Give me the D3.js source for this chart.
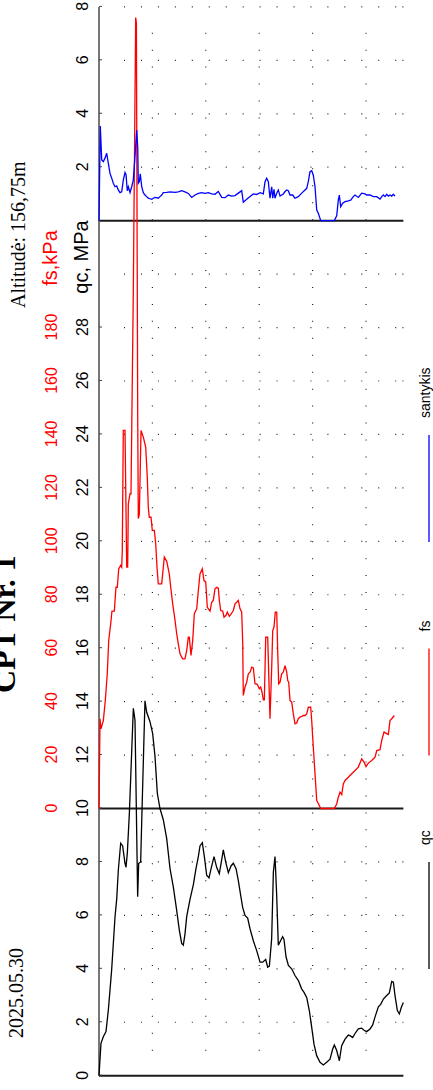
<!DOCTYPE html>
<html lang="lt">
<head>
<meta charset="UTF-8"/>
<title>CPT Nr. 1</title>
<script src="https://d3js.org/d3.v7.min.js"></script>
<style>
    html, body { margin: 0; padding: 0; overflow: hidden; background: #fff; }
</style>
</head>
<body>
<script>

    var w = 433;
    var h = 1090;

    // [depth m, qc MPa]
    var qcPoints = [
        [0,0],[0.037,1.21],[0.081,1.46],[0.131,1.65],[0.175,2.46],[0.237,3.96],[0.300,5.95],[0.331,6.6],
        [0.362,7.7],[0.406,8.7],[0.443,8.6],[0.487,7.95],[0.506,7.8],[0.531,8.35],[0.568,9.8],[0.643,13.75],
        [0.674,13.3],[0.724,6.7],[0.743,7.95],[0.780,8.0],[0.805,9.9],[0.861,14.03],[0.893,13.6],[0.955,13.25],
        [1.005,12.8],[1.049,11.94],[1.092,10.57],[1.142,10.0],[1.205,9.57],[1.267,8.88],[1.330,7.75],[1.392,7.06],
        [1.454,6.2],[1.504,5.45],[1.548,4.95],[1.579,4.89],[1.610,5.3],[1.642,5.95],[1.704,6.6],[1.767,7.15],
        [1.816,7.75],[1.860,8.2],[1.891,8.6],[1.935,8.72],[1.973,8.2],[2.016,7.5],[2.060,7.4],[2.104,7.8],
        [2.154,8.2],[2.203,7.8],[2.253,7.56],[2.291,8.0],[2.328,8.45],[2.372,8.0],[2.422,7.6],[2.472,7.85],
        [2.516,7.95],[2.566,7.75],[2.609,7.3],[2.653,6.75],[2.690,6.3],[2.734,6.0],[2.784,5.9],[2.828,5.5],
        [2.890,5.05],[2.953,4.68],[3.015,4.25],[3.065,4.25],[3.121,4.35],[3.159,4.06],[3.190,4.1],[3.233,5.12],
        [3.265,7.62],[3.296,8.2],[3.327,6.75],[3.358,4.88],[3.402,5.06],[3.439,5.2],[3.464,5.1],[3.502,4.45],
        [3.546,4.13],[3.608,4.0],[3.670,3.75],[3.733,3.56],[3.795,3.25],[3.839,3.12],[3.889,2.93],[3.939,2.43],
        [3.983,1.81],[4.026,1.18],[4.076,0.75],[4.139,0.5],[4.201,0.4],[4.263,0.5],[4.326,0.62],[4.376,1.0],
        [4.407,1.15],[4.451,0.94],[4.501,0.56],[4.544,1.12],[4.607,1.37],[4.669,1.52],[4.700,1.5],[4.750,1.43],
        [4.794,1.58],[4.856,1.75],[4.919,1.78],[4.963,1.7],[5.012,1.65],[5.075,1.75],[5.125,1.9],[5.169,2.2],
        [5.231,2.58],[5.275,2.67],[5.325,2.87],[5.387,3.0],[5.437,3.1],[5.481,3.53],[5.512,3.5],[5.543,3.0],
        [5.587,2.44],[5.624,2.31],[5.662,2.56],[5.699,2.74]
    ];

    // [depth m, fs kPa]
    var fsPoints = [
        [0,0],[0.019,33.6],[0.037,29.8],[0.081,32.9],[0.118,40.4],[0.155,50.4],[0.182,62.9],[0.219,69.1],
        [0.243,73.9],[0.287,73.9],[0.318,82.8],[0.343,82.8],[0.369,89.7],[0.406,91.0],[0.425,90.3],[0.436,96.5],
        [0.455,141.5],[0.487,141.5],[0.519,90.3],[0.537,90.3],[0.549,114.0],[0.581,117.8],[0.599,117.8],[0.642,192.6],
        [0.687,296],[0.700,294],[0.725,146.3],[0.736,108.5],[0.755,110],[0.787,141.5],[0.830,139.0],[0.875,135.2],
        [0.904,124.0],[0.923,112.8],[0.942,109.0],[0.974,109.0],[0.998,104.1],[1.036,104.1],[1.062,99.1],[1.086,90.3],
        [1.110,84.1],[1.174,84.1],[1.223,94.1],[1.268,92.5],[1.316,87.8],[1.343,82.8],[1.380,76.6],[1.423,70.5],
        [1.455,65.4],[1.485,61.6],[1.517,57.9],[1.567,56.0],[1.610,56.0],[1.642,59.1],[1.672,64.1],[1.691,64.1],
        [1.723,57.3],[1.755,62.9],[1.785,72.9],[1.830,74.7],[1.860,81.6],[1.891,87.8],[1.934,89.7],[1.966,85.3],
        [1.998,84.8],[2.028,75.3],[2.079,73.9],[2.110,77.2],[2.140,77.9],[2.172,82.2],[2.204,82.8],[2.234,82.5],
        [2.253,77.9],[2.279,74.1],[2.316,73.9],[2.341,71.6],[2.378,72.3],[2.403,73.5],[2.440,71.9],[2.472,72.7],
        [2.515,74.1],[2.547,76.6],[2.579,77.2],[2.609,77.9],[2.640,74.8],[2.672,73.5],[2.691,62],[2.702,42.3],
        [2.734,45.4],[2.766,47.3],[2.796,50.4],[2.828,51],[2.860,52.9],[2.890,52.6],[2.921,46.7],[2.964,46.5],
        [3.002,44.8],[3.028,45.4],[3.052,43.6],[3.077,40.7],[3.096,40.7],[3.122,64.1],[3.159,64.1],[3.178,50.4],
        [3.202,33.6],[3.234,52.9],[3.253,66.6],[3.277,67.9],[3.301,73.5],[3.328,73.5],[3.346,59.1],[3.365,46.7],
        [3.390,47.3],[3.421,50.4],[3.451,51],[3.483,53.5],[3.515,51],[3.534,47.9],[3.552,47.3],[3.577,40.4],
        [3.609,39.8],[3.639,35.4],[3.670,31.7],[3.702,32],[3.732,33.6],[3.764,34.2],[3.796,34.5],[3.826,34.8],
        [3.858,34.8],[3.890,35.4],[3.919,37.9],[3.964,37.9],[3.983,32.9],[4.013,22.9],[4.045,13.0],[4.077,3.0],
        [4.107,1.9],[4.152,0],[4.406,0],[4.451,1.7],[4.481,4.2],[4.513,6.1],[4.545,5.2],[4.575,9.2],
        [4.607,10.5],[4.669,11.7],[4.732,13.0],[4.794,14.2],[4.856,15.5],[4.919,18.6],[4.963,17.4],[5.000,15.7],
        [5.043,17],[5.107,18.0],[5.169,19.2],[5.201,21.7],[5.262,22],[5.294,25.5],[5.337,28.6],[5.388,28],
        [5.418,27.7],[5.449,32.9],[5.481,33.6],[5.530,34.8]
    ];

    // [depth m, santykis]
    var ratioPoints = [
        [0,0],[0.024,3.54],[0.051,2.27],[0.081,2.21],[0.112,2.34],[0.144,2.52],[0.174,2.15],[0.206,1.77],
        [0.238,1.59],[0.268,1.40],[0.300,1.27],[0.331,1.30],[0.361,1.15],[0.393,1.05],[0.425,1.08],[0.455,1.52],
        [0.487,1.80],[0.506,1.72],[0.530,1.12],[0.549,1.27],[0.581,1.05],[0.612,1.27],[0.642,1.52],[0.674,2.40],
        [0.706,3.39],[0.725,2.75],[0.736,1.40],[0.755,1.46],[0.773,1.75],[0.800,1.27],[0.830,1.05],[0.861,0.96],
        [0.893,0.90],[0.923,0.84],[0.955,0.82],[0.987,0.80],[1.017,0.84],[1.049,0.87],[1.080,0.86],[1.110,0.84],
        [1.142,0.90],[1.174,0.96],[1.204,1.05],[1.268,1.06],[1.330,1.08],[1.423,1.06],[1.485,1.08],[1.549,1.12],
        [1.610,1.08],[1.672,1.02],[1.736,0.87],[1.798,0.96],[1.860,1.02],[1.923,1.05],[1.985,1.02],[2.047,1.05],
        [2.110,1.00],[2.172,0.99],[2.234,1.09],[2.298,0.87],[2.360,0.86],[2.421,0.96],[2.485,0.92],[2.547,0.94],
        [2.609,1.03],[2.672,1.12],[2.702,0.69],[2.766,0.80],[2.828,0.90],[2.890,1.00],[2.952,0.98],[3.015,1.05],
        [3.077,1.00],[3.109,1.46],[3.140,1.59],[3.171,1.46],[3.202,0.84],[3.234,1.27],[3.253,0.84],[3.277,1.17],
        [3.296,0.84],[3.328,1.03],[3.358,1.15],[3.390,0.92],[3.451,1.00],[3.483,1.09],[3.515,1.15],[3.545,1.12],
        [3.577,0.96],[3.627,0.96],[3.670,0.84],[3.732,0.90],[3.796,1.03],[3.858,1.15],[3.890,1.21],[3.919,1.46],
        [3.951,1.83],[3.983,1.87],[4.013,1.70],[4.045,1.27],[4.077,0.40],[4.107,0.28],[4.152,0],[4.406,0],
        [4.451,0.18],[4.481,0.77],[4.500,0.96],[4.526,0.52],[4.564,0.65],[4.607,0.71],[4.669,0.74],[4.713,0.77],
        [4.762,0.90],[4.794,0.96],[4.856,0.87],[4.919,1.03],[4.981,1.00],[5.013,0.96],[5.075,0.96],[5.137,0.90],
        [5.201,0.90],[5.262,0.81],[5.294,0.90],[5.324,0.96],[5.356,0.90],[5.388,0.99],[5.418,0.92],[5.449,0.96],
        [5.481,0.92],[5.511,0.99],[5.543,0.92]
    ];

    var qcTicks = [0,2,4,6,8,10,12,14,16,18,20,22,24,26,28];
    var fsTicks = [0,20,40,60,80,100,120,140,160,180];
    var ratioTicks = [2,4,6,8];
    var depthGrid = [1,2,3,4,5];
    var legendLabels = ["qc","fs","santykis"];
    var legendColors = ["#000000","#ff0000","#0000ff"];

    var sans = "Arial, 'Liberation Sans', sans-serif";
    var serif = "'Times New Roman', 'Liberation Serif', serif";

    var svg = d3.select("body")
                .append("svg")
                .attr("width", w)
                .attr("height", h);

    // the sheet is laid out in landscape and turned a quarter to the left
    var g = svg.append("g")
               .attr("transform", "translate(0," + h + ") rotate(-90)");

    // one common run along the long side: 0..30 for qc, then the ratio panel
    var vScale = d3.scaleLinear().domain([0, 40]).range([14.3, 1083.1]);
    var qcScale = d3.scaleLinear().domain([0, 30]).range([vScale(0), vScale(30)]);
    var fsScale = d3.scaleLinear().domain([0, 200]).range([vScale(10), vScale(30)]);
    var ratioScale = d3.scaleLinear().domain([-2, 8]).range([vScale(30), vScale(40)]);
    var depthScale = d3.scaleLinear().domain([0, 5.7]).range([99, 403.4]);

    var yTop = depthScale(0);
    var yEnd = depthScale(5.7);

    // dotted grid along the value ticks
    var gridV = d3.range(2, 41, 2).filter(function(v) { return v != 10 && v != 32; });
    g.selectAll(".rowgrid")
        .data(gridV)
        .enter()
        .append("line")
        .attr("x1", function(v) { return vScale(v); })
        .attr("x2", function(v) { return vScale(v); })
        .attr("y1", yTop + 25)
        .attr("y2", yEnd)
        .attr("stroke", "#222")
        .attr("stroke-width", 1.2)
        .attr("stroke-dasharray", "1,15.95");

    g.selectAll(".rowend")
        .data(gridV)
        .enter()
        .append("line")
        .attr("x1", function(v) { return vScale(v); })
        .attr("x2", function(v) { return vScale(v); })
        .attr("y1", yEnd - 1)
        .attr("y2", yEnd)
        .attr("stroke", "#222")
        .attr("stroke-width", 1.2);

    // dotted grid every metre of depth
    g.selectAll(".colgrid")
        .data(depthGrid)
        .enter()
        .append("line")
        .attr("x1", vScale(0) + 25)
        .attr("x2", vScale(40) - 24)
        .attr("y1", function(d) { return depthScale(d); })
        .attr("y2", function(d) { return depthScale(d); })
        .attr("stroke", "#222")
        .attr("stroke-width", 1.2)
        .attr("stroke-dasharray", "1,15.95");

    // zero lines of the three panels
    g.selectAll(".zero")
        .data([qcScale(0), fsScale(0), ratioScale(0)])
        .enter()
        .append("line")
        .attr("x1", function(d) { return d; })
        .attr("x2", function(d) { return d; })
        .attr("y1", yTop)
        .attr("y2", yEnd)
        .attr("stroke", "#1a1a1a")
        .attr("stroke-width", 2);

    // main axis line
    g.append("line")
        .attr("x1", vScale(0))
        .attr("x2", vScale(40))
        .attr("y1", yTop)
        .attr("y2", yTop)
        .attr("stroke", "#555")
        .attr("stroke-width", 1.6);

    var qcAxis = g.append("g")
        .attr("transform", "translate(0," + yTop + ")")
        .call(d3.axisTop(qcScale).tickValues(qcTicks).tickSizeInner(-3).tickSizeOuter(0).tickPadding(10.7));
    var ratioAxis = g.append("g")
        .attr("transform", "translate(0," + yTop + ")")
        .call(d3.axisTop(ratioScale).tickValues(ratioTicks).tickSizeInner(-3).tickSizeOuter(0).tickPadding(10.7));
    var fsAxis = g.append("g")
        .attr("transform", "translate(0," + yTop + ")")
        .call(d3.axisTop(fsScale).tickValues(fsTicks).tickSizeInner(0).tickSizeOuter(0).tickPadding(42.3));

    [qcAxis, ratioAxis, fsAxis].forEach(function(a) {
        a.select(".domain").remove();
        a.attr("font-family", sans).attr("font-size", 16);
        a.selectAll("line").attr("stroke", "#444");
    });
    qcAxis.selectAll("text").attr("fill", "#000");
    ratioAxis.selectAll("text").attr("fill", "#000");
    fsAxis.selectAll("text").attr("fill", "#ff0000");

    // axis titles
    g.append("text")
        .text("qc, MPa")
        .attr("x", 833)
        .attr("y", 88.3)
        .attr("text-anchor", "middle")
        .attr("font-family", sans)
        .attr("font-size", "20px")
        .attr("fill", "#000");

    g.append("text")
        .text("fs,kPa")
        .attr("x", 832)
        .attr("y", 56.7)
        .attr("text-anchor", "middle")
        .attr("font-family", sans)
        .attr("font-size", "20px")
        .attr("fill", "#ff0000");

    // header
    g.append("text")
        .text("CPT Nr. 1")
        .attr("x", 397)
        .attr("y", 15)
        .attr("font-family", serif)
        .attr("font-weight", "bold")
        .attr("font-size", "32px")
        .attr("fill", "#000");

    g.append("text")
        .text("Altitudė: 156,75m")
        .attr("x", 782)
        .attr("y", 25)
        .attr("font-family", serif)
        .attr("font-size", "20px")
        .attr("fill", "#000");

    g.append("text")
        .text("2025.05.30")
        .attr("x", 52)
        .attr("y", 23)
        .attr("font-family", serif)
        .attr("font-size", "20px")
        .attr("fill", "#000");

    // curves
    var qcLine = d3.line()
        .x(function(d) { return qcScale(d[1]); })
        .y(function(d) { return depthScale(d[0]); });
    var fsLine = d3.line()
        .x(function(d) { return fsScale(d[1]); })
        .y(function(d) { return depthScale(d[0]); });
    var ratioLine = d3.line()
        .x(function(d) { return ratioScale(d[1]); })
        .y(function(d) { return depthScale(d[0]); });

    g.append("path")
        .datum(qcPoints)
        .attr("d", qcLine)
        .attr("fill", "none")
        .attr("stroke", legendColors[0])
        .attr("stroke-width", 1.3);

    g.append("path")
        .datum(fsPoints)
        .attr("d", fsLine)
        .attr("fill", "none")
        .attr("stroke", legendColors[1])
        .attr("stroke-width", 1.3);

    g.append("path")
        .datum(ratioPoints)
        .attr("d", ratioLine)
        .attr("fill", "none")
        .attr("stroke", legendColors[2])
        .attr("stroke-width", 1.3);

    // legend along the lower edge
    var legend = g.selectAll(".legend")
        .data(legendLabels)
        .enter()
        .append("g")
        .attr("transform", function(d, i) { return "translate(" + (121 + i * 213.5) + ",429)"; });

    legend.append("line")
        .attr("x1", 0)
        .attr("x2", 107)
        .attr("y1", 0)
        .attr("y2", 0)
        .attr("stroke", function(d, i) { return legendColors[i]; })
        .attr("stroke-width", 1.3);

    legend.append("text")
        .text(function(d) { return d; })
        .attr("x", 124)
        .attr("y", 1)
        .attr("font-family", sans)
        .attr("font-size", "14px")
        .attr("fill", "#000");

</script>
</body>
</html>
